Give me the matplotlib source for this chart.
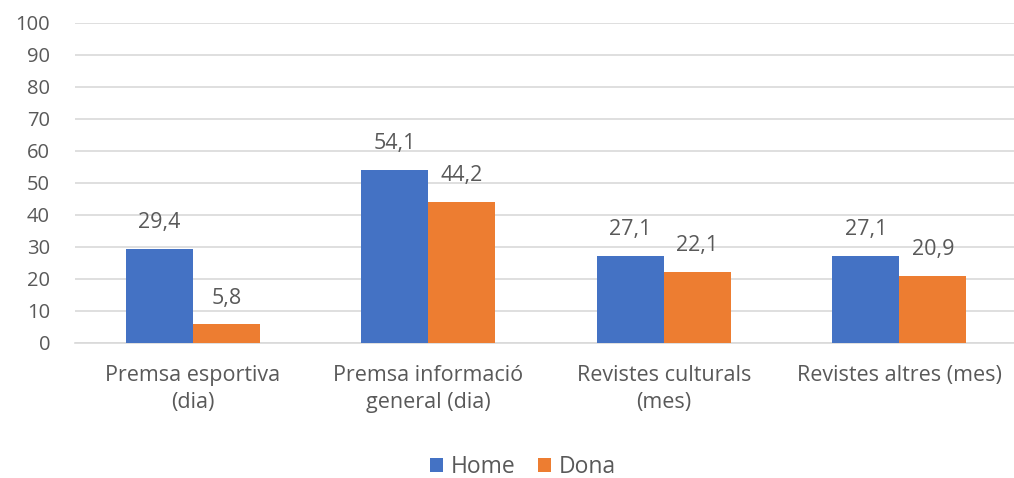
import numpy as np
import matplotlib.pyplot as plt

plt.rcParams["font.family"] = ["Open Sans", "DejaVu Sans"]

# Data
categories = ["Premsa esportiva\n(dia)", "Premsa informació\ngeneral (dia)",
              "Revistes culturals\n(mes)", "Revistes altres (mes)"]
home = [29.4, 54.1, 27.1, 27.1]
dona = [5.8, 44.2, 22.1, 20.9]
series_names = ["Home", "Dona"]

blue = "#4472C4"
orange = "#ED7D31"
text_col = "#595959"

fig = plt.figure(figsize=(10.14, 4.78), dpi=100)
ax = fig.add_axes([75 / 1014, 135 / 478, 942 / 1014, 320 / 478])

x = np.arange(len(categories))
w = 0.285
b1 = ax.bar(x - w / 2, home, w, color=blue, label=series_names[0], zorder=3)
b2 = ax.bar(x + w / 2, dona, w, color=orange, label=series_names[1], zorder=3)

# value labels
for bars, vals in [(b1, home), (b2, dona)]:
    for rect, v in zip(bars, vals):
        ax.annotate(f"{v:.1f}".replace(".", ","),
                    (rect.get_x() + rect.get_width() / 2, v),
                    xytext=(0, 19), textcoords="offset points",
                    ha="center", va="center", fontsize=15.5, color=text_col)

ax.set_ylim(0, 100)
ax.set_yticks(range(0, 101, 10))
ax.set_xlim(-0.5, 3.5)
ax.set_xticks(x)
ax.set_xticklabels(categories, fontsize=15.5, color=text_col, linespacing=1.35)
ax.tick_params(axis="y", labelsize=14.5, labelcolor=text_col, length=0, pad=18)
ax.tick_params(axis="x", length=0, pad=16)
ax.grid(axis="y", color="#D9D9D9", linewidth=1.2, zorder=0)
for s in ["top", "right", "left"]:
    ax.spines[s].set_visible(False)
ax.spines["bottom"].set_color("#D9D9D9")
ax.spines["bottom"].set_linewidth(1.2)

fig.legend(loc="center", bbox_to_anchor=(523 / 1014, 1 - 467 / 478), ncol=2,
           frameon=False, fontsize=16.5, handlelength=0.55, handleheight=0.55,
           handletextpad=0.35, columnspacing=1.0, labelcolor=text_col)

plt.savefig("out.png", dpi=100)
